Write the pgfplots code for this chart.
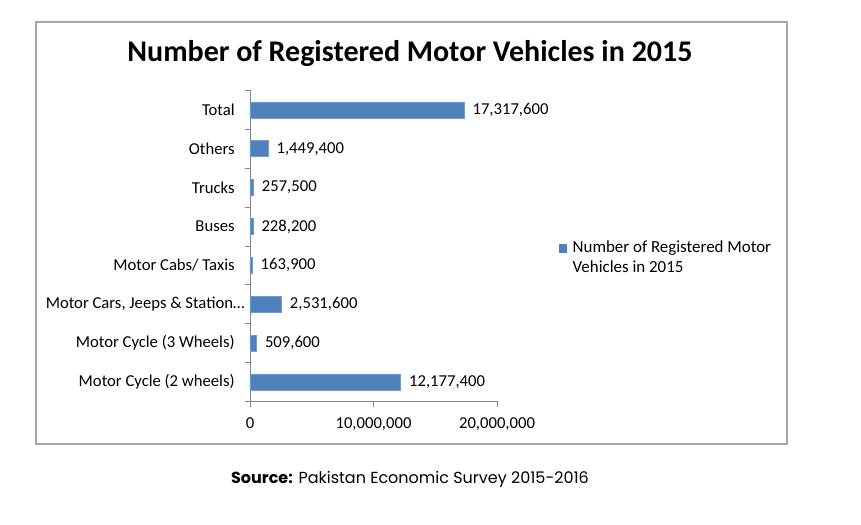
\documentclass[border=0pt]{standalone}
\usepackage{pgfplots}
\pgfplotsset{compat=1.18}
\usepackage{fontspec}
\setmainfont{Carlito}
\newfontfamily\srcfont{Poppins}
\definecolor{barblue}{HTML}{4F81BD}
\definecolor{axgray}{HTML}{868686}
\definecolor{framegray}{HTML}{A6A6A6}
\begin{document}
\begin{tikzpicture}
\useasboundingbox (0,0) rectangle (645.75pt,393.75pt);
\draw[framegray, line width=1.2pt] (27pt,60.75pt) rectangle (590.25pt,377.25pt);
\node[font=\fontsize{22.5}{26}\selectfont\bfseries] at (307.5pt,353.5pt) {Number of Registered Motor Vehicles in 2015};
\node[font=\srcfont\fontsize{12}{14}\selectfont] at (307.5pt,34.5pt) {\textbf{Source:} Pakistan Economic Survey 2015-2016};
\begin{axis}[
  at={(187.5pt,92.7pt)}, anchor=south west,
  scale only axis, width=185.25pt, height=233.25pt,
  xbar, bar width=12pt,
  xmin=0, xmax=20000000,
  ymin=-0.5, ymax=7.5,
  axis x line*=bottom, axis y line*=left,
  axis line style={axgray, line width=0.6pt},
  tick style={axgray, line width=0.6pt},
  tick align=outside, major tick length=4pt,
  xtick={0,10000000,20000000},
  scaled x ticks=false,
  ytick={-0.5,0.5,...,7.5},
  y tick label as interval,
  yticklabels={Motor Cycle (2 wheels),Motor Cycle (3 Wheels),{Motor Cars, Jeeps \& Station…\hspace*{-7.5pt}},Motor Cabs/ Taxis,Buses,Trucks,Others,Total},
  ticklabel style={font=\fontsize{12.5}{15}\selectfont},
  yticklabel style={xshift=-4pt},
  xticklabel style={yshift=-5pt},
  /pgf/number format/.cd, fixed, precision=0, 1000 sep={,}, assume math mode=true,
  /pgfplots/.cd,
  nodes near coords,
  nodes near coords style={font=\fontsize{12.5}{15}\selectfont, black, xshift=3pt, /pgf/number format/.cd, fixed, precision=0, 1000 sep={,}, assume math mode=true},
  legend style={at={(1.233,0.461)}, anchor=west, draw=none, font=\fontsize{12.7}{15}\selectfont, nodes={align=left}},
  legend image code/.code={\fill[barblue] (0pt,4.6pt) rectangle (5.6pt,10.2pt); \path (8pt,4.6pt);},
]
\addplot[fill=barblue, draw=barblue!80!white] coordinates {
(12177400,0) (509600,1) (2531600,2) (163900,3) (228200,4) (257500,5) (1449400,6) (17317600,7)};
\addlegendentry{Number of Registered Motor\\Vehicles in 2015}
\end{axis}
\end{tikzpicture}
\end{document}
